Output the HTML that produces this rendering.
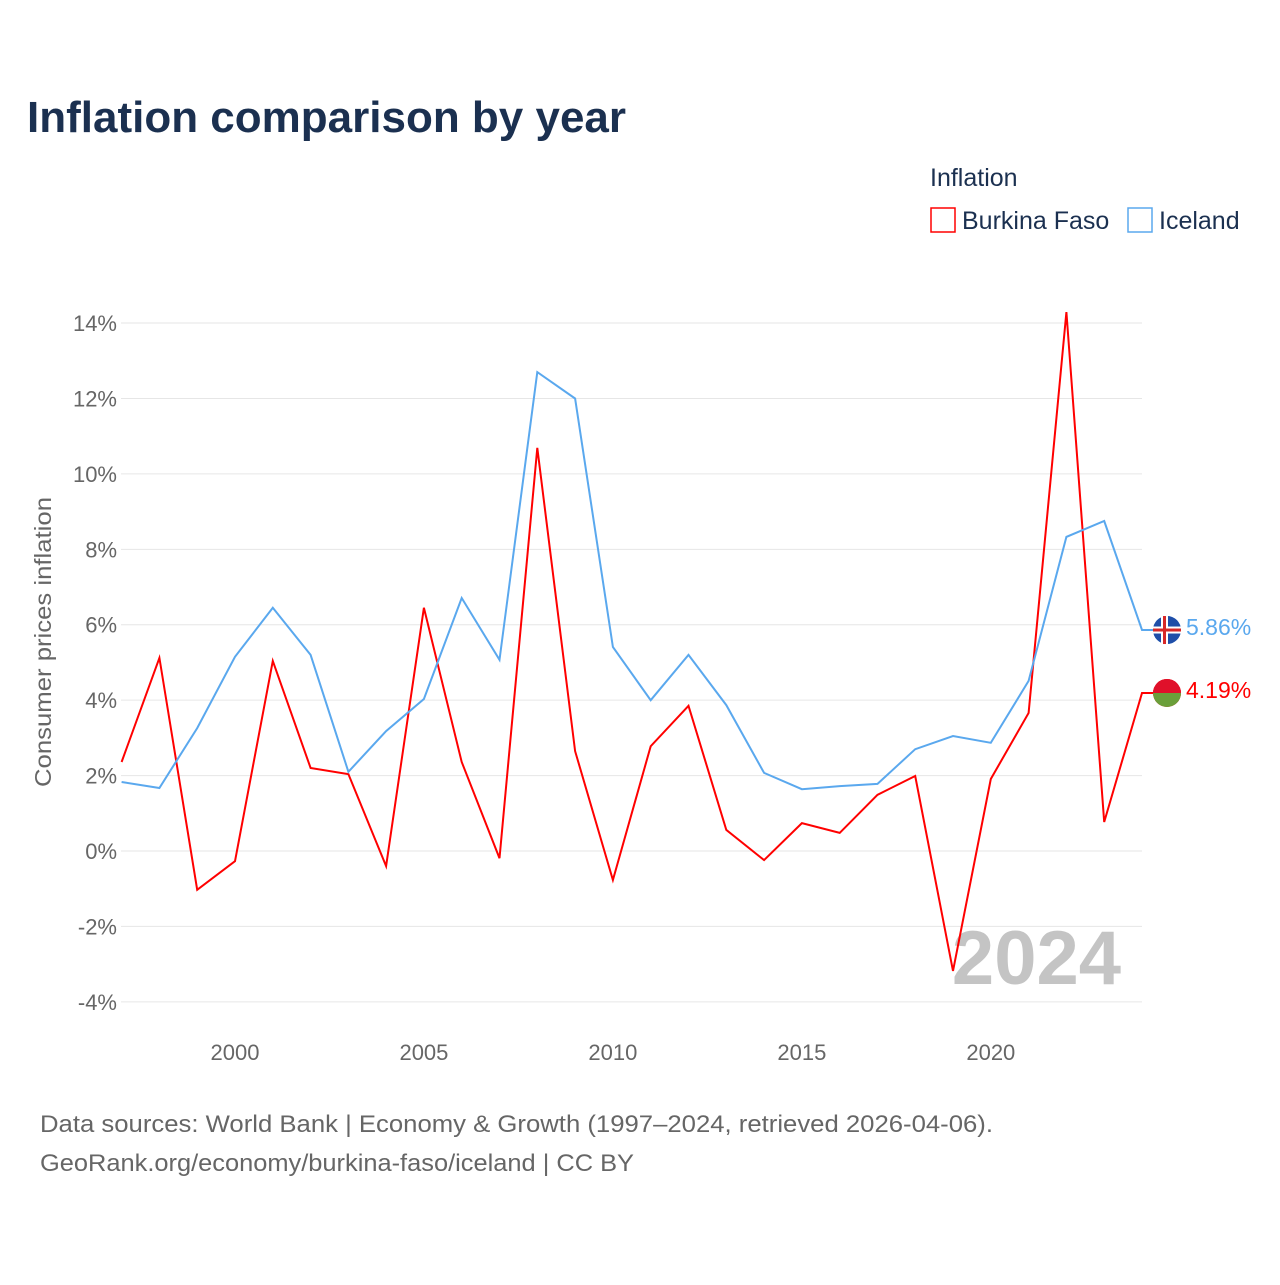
<!DOCTYPE html>
<html><head><meta charset="utf-8"><style>
body{margin:0;background:#fff;font-family:"Liberation Sans",sans-serif}
</style></head><body>
<svg id="chart" width="1280" height="1280" viewBox="0 0 1280 1280" xmlns="http://www.w3.org/2000/svg">
<rect width="1280" height="1280" fill="#fff"/>
<text x="27" y="132" font-size="44" font-weight="bold" fill="#1b3050">Inflation comparison by year</text>
<text x="930" y="186" font-size="25" fill="#1b3050">Inflation</text>
<g><rect x="931" y="208" width="24" height="24" fill="none" stroke="#f00" stroke-width="1.5"/><text x="962" y="229" font-size="25" fill="#1b3050">Burkina Faso</text></g>
<g><rect x="1128" y="208" width="24" height="24" fill="none" stroke="#5aa8ee" stroke-width="1.5"/><text x="1159" y="229" font-size="25" fill="#1b3050">Iceland</text></g>
<g id="grid"></g><g id="yticks"></g><g id="xticks"></g>
<text transform="translate(51,642) rotate(-90)" text-anchor="middle" font-size="23" fill="#666" textLength="290" lengthAdjust="spacingAndGlyphs">Consumer prices inflation</text>
<text x="1121" y="984" text-anchor="end" font-size="76" font-weight="bold" fill="#c4c4c4">2024</text>
<g id="series"></g>
<text x="40" y="1132" font-size="24" fill="#666" textLength="953" lengthAdjust="spacingAndGlyphs">Data sources: World Bank | Economy &amp; Growth (1997–2024, retrieved 2026-04-06).</text>
<text x="40" y="1171" font-size="24" fill="#666" textLength="594" lengthAdjust="spacingAndGlyphs">GeoRank.org/economy/burkina-faso/iceland | CC BY</text>
</svg>
<script>
const years=[1997,1998,1999,2000,2001,2002,2003,2004,2005,2006,2007,2008,2009,2010,2011,2012,2013,2014,2015,2016,2017,2018,2019,2020,2021,2022,2023,2024];
const burkina=[2.36,5.12,-1.03,-0.27,5.04,2.2,2.04,-0.4,6.45,2.36,-0.19,10.69,2.65,-0.77,2.78,3.85,0.56,-0.24,0.74,0.48,1.49,1.99,-3.18,1.91,3.66,14.29,0.77,4.19];
const iceland=[1.83,1.67,3.26,5.15,6.45,5.2,2.1,3.18,4.03,6.71,5.07,12.7,12.0,5.41,4.0,5.2,3.87,2.07,1.64,1.72,1.78,2.7,3.05,2.87,4.51,8.33,8.75,5.86];
const yTicks=[-4,-2,0,2,4,6,8,10,12,14];
const xTicks=[2000,2005,2010,2015,2020];
const NS="http://www.w3.org/2000/svg";
const X=v=>121.6+(v-1997)*(1142-121.6)/27;
const Y=v=>851-v*37.71;
function mk(t,a,p){const e=document.createElementNS(NS,t);for(const k in a)e.setAttribute(k,a[k]);document.getElementById(p).appendChild(e);return e;}
yTicks.forEach(t=>{
 const l=mk('line',{x1:121,x2:1142,y1:Y(t),y2:Y(t),stroke:'#e6e6e6','stroke-width':1},'grid');
 
 
 const tx=mk('text',{x:117,y:Y(t)+8,'text-anchor':'end','font-size':22,fill:'#666'},'yticks');
 tx.textContent=t+'%';
 
 
});
xTicks.forEach(t=>{
 const tx=mk('text',{x:X(t),y:1060,'text-anchor':'middle','font-size':22,fill:'#666'},'xticks');
 tx.textContent=t;
 
 
});
function series(vals,color,name){
 const d=vals.map((v,i)=>(i?'L':'M')+X(years[i]).toFixed(1)+','+Y(v).toFixed(1)).join(' ')+' L1154,'+Y(vals[vals.length-1]).toFixed(1);
 const p=mk('path',{d:d,fill:'none',stroke:color,'stroke-width':2,'stroke-linejoin':'miter'},'series');
 
 
 const last=vals[vals.length-1];
 const c=mk('circle',{cx:1167,cy:Y(last),r:14,fill:color},'series');
 
 
 const tx=mk('text',{x:1186,y:Y(last)+5,'font-size':23,fill:color},'series');
 tx.textContent=last.toFixed(2)+'%';
 
 
 return Y(last);
}
const yb=series(burkina,'#f00','burkina-faso');
const yi=series(iceland,'#5aa8ee','iceland');
mk('path',{d:`M1153,${yb} A14,14 0 0 0 1181,${yb} Z`,fill:'#6a9f3a'},'series');
mk('path',{d:`M1153,${yb} A14,14 0 0 1 1181,${yb} Z`,fill:'#e0102a'},'series');
mk('circle',{cx:1167,cy:yi,r:14,fill:'#1f4ea8'},'series');
mk('rect',{x:1153,y:yi-3.5,width:28,height:7,fill:'#fff'},'series');
mk('rect',{x:1161,y:yi-14,width:7,height:28,fill:'#fff'},'series');
mk('rect',{x:1153,y:yi-1.5,width:28,height:3,fill:'#d72828'},'series');
mk('rect',{x:1163,y:yi-14,width:3,height:28,fill:'#d72828'},'series');
</script>
</body></html>
